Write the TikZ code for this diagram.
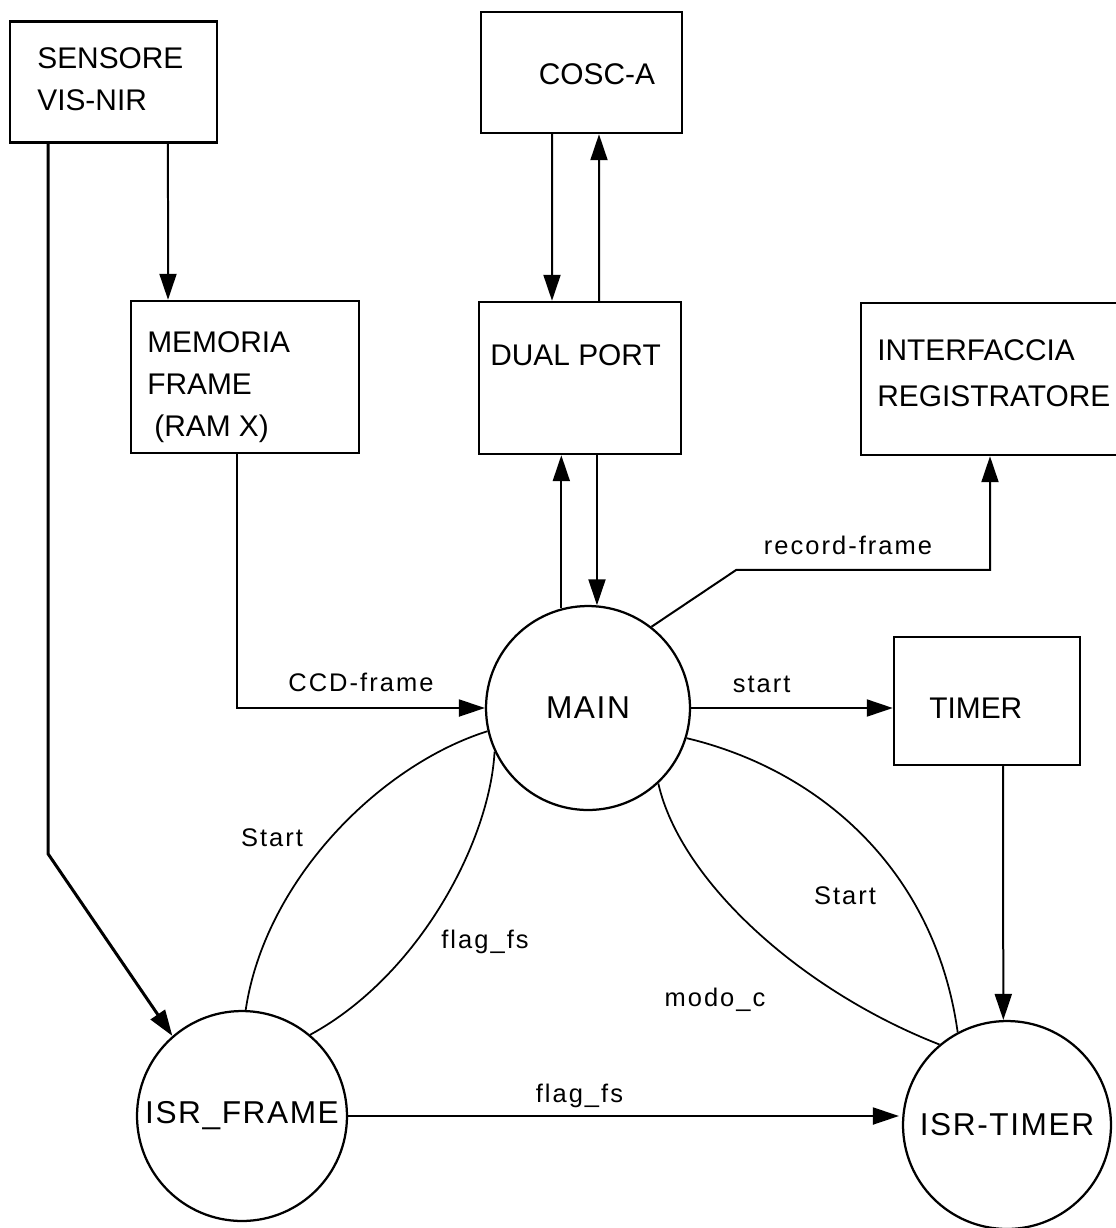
\documentclass[tikz,border=0pt]{standalone}
\usepackage{fontspec}
\setmainfont{Liberation Sans}
\newfontfamily\lblfont[LetterSpace=8]{Liberation Sans}
\newfontfamily\procfont[LetterSpace=5]{Liberation Sans}
\usetikzlibrary{arrows.meta}

\begin{document}
\begin{tikzpicture}[x=0.02cm, y=-0.02cm,
	box/.style={rectangle, draw, line width=0.5mm, inner sep=0pt},
	proc/.style={circle, draw, line width=0.45mm, inner sep=0pt, font=\procfont\fontsize{18}{20}\selectfont},
	txt/.style={font=\fontsize{17}{24}\selectfont, align=left, inner sep=0pt},
	lbl/.style={font=\lblfont\fontsize{14.5}{17}\selectfont, inner sep=0pt},
	flow/.style={line width=0.4mm, -{Triangle[length=0.52cm, width=0.34cm]}},
	link/.style={line width=0.35mm}]
	\useasboundingbox (0,0) rectangle (1116,1228);

	% Blocks
	\node[box, minimum width=4.14cm, minimum height=2.42cm] (sensore) at (113.5, 82) {};
	\node[box, minimum width=4.02cm, minimum height=2.42cm] (cosc) at (581.5, 72.5) {};
	\node[box, minimum width=4.56cm, minimum height=3.04cm] (memoria) at (245, 377) {};
	\node[box, minimum width=4.04cm, minimum height=3.04cm] (dualport) at (580, 378) {};
	\node[box, minimum width=5.36cm, minimum height=3.04cm] (interf) at (995, 379) {};
	\node[box, minimum width=3.72cm, minimum height=2.56cm] (timer) at (987, 701) {};

	\node[txt, anchor=west] (sensoretxt) at (37, 79) {SENSORE\\VIS-NIR};
	\node[txt] (cosctxt) at (597, 74) {COSC-A};
	\node[txt, anchor=west] (memoriatxt) at (147, 387) {MEMORIA\\FRAME\\\hspace{4pt}(RAM X)};
	\node[txt, anchor=west] (dualporttxt) at (490, 355) {DUAL PORT};
	\node[txt, anchor=west] (interftxt) at (877, 373) {INTERFACCIA\\[2pt]REGISTRATORE};
	\node[txt, anchor=west] (timertxt) at (929, 708) {TIMER};

	% Processes
	\node[proc, minimum size=4.08cm] (main) at (588, 708) {MAIN};
	\node[proc, minimum size=4.2cm] (isrframe) at (242, 1116) {ISR\_FRAME};
	\node[proc, minimum size=4.16cm] (isrtimer) at (1007, 1125) {ISR-TIMER};

	% Data flows
	\draw[flow, line width=0.6mm] ([xshift=-1.31cm]sensore.south) -- ++(0, 710) -- (isrframe.131);
	\draw[flow] ([xshift=1.09cm]sensore.south) -- ([xshift=-1.54cm]memoria.north);
	\draw[flow] ([xshift=-0.59cm]cosc.south) -- ([xshift=-0.56cm]dualport.north);
	\draw[flow] ([xshift=0.38cm]dualport.north) -- ([xshift=0.35cm]cosc.south);
	\draw[flow] (main.105) -- (main.105 |- dualport.south);
	\draw[flow] (main.85 |- dualport.south) -- (main.85);
	\draw[flow] ([xshift=-0.16cm]memoria.south) |- node[lbl, pos=0.75, above=0.3cm] {CCD-frame} (main.west);
	\draw[flow] (main.east) -- node[lbl, pos=0.35, above=0.28cm] {start} (main.east -| timer.west);
	\draw[flow] (main.52) -- ++(85, -57) -| node[lbl, pos=0.22, above=0.28cm] {record-frame} ([xshift=-0.1cm]interf.south);
	\draw[flow] ([xshift=0.32cm]timer.south) -- (isrtimer.92);
	\draw[flow] (isrframe.east) -- node[lbl, pos=0.42, above=0.15cm] {flag\_fs} ([xshift=-0.06cm]isrframe.east -| isrtimer.west);

	% Links between processes
	\draw[link] (main.193) .. controls (380, 765) and (265, 880) .. (isrframe.88);
	\draw[link] (main.205) .. controls (490, 840) and (420, 975) .. (isrframe.50);
	\draw[link] (main.-17) .. controls (820, 770) and (935, 870) .. (isrtimer.118);
	\draw[link] (main.-47) .. controls (680, 880) and (800, 990) .. (isrtimer.130);

	\node[lbl] (startframe) at (272, 838) {Start};
	\node[lbl] (flagframe) at (485, 942) {flag\_fs};
	\node[lbl] (starttimer) at (845, 896) {Start};
	\node[lbl] (modotimer) at (715, 1000) {modo\_c};
\end{tikzpicture}
\end{document}
